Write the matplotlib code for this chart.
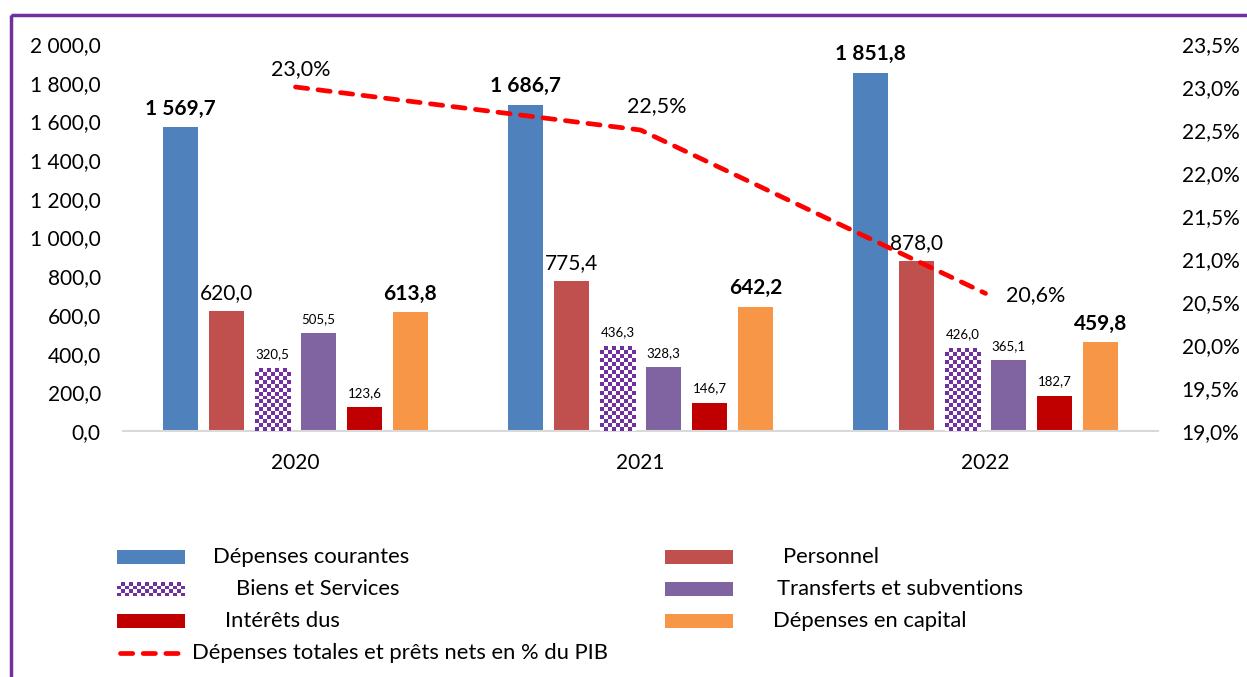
import numpy as np
import matplotlib
import matplotlib.pyplot as plt
from matplotlib.patches import Rectangle
from matplotlib.lines import Line2D
from matplotlib.colors import ListedColormap

plt.rcParams['font.family'] = ['Lato', 'DejaVu Sans']

years = ['2020', '2021', '2022']
courantes = [1569.7, 1686.7, 1851.8]
personnel = [620.0, 775.4, 878.0]
biens = [320.5, 436.3, 426.0]
transferts = [505.5, 328.3, 365.1]
interets = [123.6, 146.7, 182.7]
capital = [613.8, 642.2, 459.8]
depenses_pib = [23.0, 22.5, 20.6]

W, H = 1247, 677
PURPLE = '#7030A0'


def fr(v, dec=1):
    s = f"{v:,.{dec}f}"
    return s.replace(",", " ").replace(".", ",")


def fpx(x, y):
    return x / W, 1 - y / H


fig = plt.figure(figsize=(W / 100, H / 100), dpi=100)
ax = fig.add_axes([123 / W, 1 - 431 / H, 1035 / W, 387 / H])

x = np.arange(len(years))
width = 0.104
step = 0.1333
series = [
    (courantes, '#4F81BD', 15, 'bold'),
    (personnel, '#C0504D', 15, 'normal'),
    (biens, 'white', 9.5, 'normal'),
    (transferts, '#8064A2', 9.5, 'normal'),
    (interets, '#C00000', 9.5, 'normal'),
    (capital, '#F79646', 15, 'bold'),
]

ax.set_xlim(-0.5, 2.5)
ax.set_ylim(0, 2000)

containers = []
for i, (vals, col, fs, fw) in enumerate(series):
    bc = ax.bar(x + (i - 2.5) * step, vals, width, color=col, linewidth=0, zorder=2)
    ax.bar_label(bc, labels=[fr(v) for v in vals], padding=6, fontsize=fs,
                 fontweight=fw, color='black')
    containers.append(bc)

# checkerboard fill for "Biens et Services"
cmap = ListedColormap(['white', PURPLE])
for p in containers[2]:
    x0, y0 = p.get_x(), p.get_y()
    x1, y1 = x0 + p.get_width(), y0 + p.get_height()
    (dx0, dy0), (dx1, dy1) = ax.transData.transform([(x0, y0), (x1, y1)])
    nc = max(1, int(round((dx1 - dx0) / 4)))
    nr = max(1, int(round((dy1 - dy0) / 4)))
    ii, jj = np.indices((nr, nc))
    ax.imshow((ii + jj) % 2, cmap=cmap, extent=(x0, x1, y0, y1),
              interpolation='nearest', aspect='auto', zorder=3)

ax.set_xlim(-0.5, 2.5)
ax.set_ylim(0, 2000)
ax.set_yticks(np.arange(0, 2001, 200))
ax.set_yticklabels([fr(v) for v in np.arange(0, 2001, 200)])
ax.set_xticks(x)
ax.set_xticklabels(years)
ax.tick_params(axis='y', length=0, pad=16, labelsize=15)
ax.tick_params(axis='x', length=0, pad=16, labelsize=15)
for s in ['top', 'right', 'left']:
    ax.spines[s].set_visible(False)
ax.spines['bottom'].set_color('#D9D9D9')
ax.spines['bottom'].set_linewidth(1.5)

ax2 = ax.twinx()
ax2.plot(x, depenses_pib, color='#FF0000', lw=3.4, dashes=(2.6, 2.2),
         dash_capstyle='round', zorder=5)
ax2.set_ylim(19, 23.5)
pct_ticks = np.arange(19, 23.51, 0.5)
ax2.set_yticks(pct_ticks)
ax2.set_yticklabels([fr(v) + '%' for v in pct_ticks])
ax2.tick_params(axis='y', length=0, pad=17, labelsize=15)
for s in ax2.spines.values():
    s.set_visible(False)

offsets = [(4, 13), (12, 17), (36, -1)]
for xi, v, off in zip(x, depenses_pib, offsets):
    ax2.annotate(fr(v) + '%', (xi, v), xytext=off, textcoords='offset points',
                 ha='center', va='center', fontsize=15.5)

# purple frame
fig.patches.append(Rectangle(fpx(11, 15), 2, -1.2, transform=fig.transFigure,
                             fill=False, edgecolor=PURPLE, linewidth=2.5,
                             clip_on=False))

# legend
legend_rows = [
    ('patch', '#4F81BD', 'Dépenses courantes', 117, 557, 213),
    ('patch', '#C0504D', 'Personnel', 665, 557, 783),
    ('checker', PURPLE, 'Biens et Services', 117, 589, 236),
    ('patch', '#8064A2', 'Transferts et subventions', 665, 589, 777),
    ('patch', '#C00000', 'Intérêts dus', 117, 621, 225),
    ('patch', '#F79646', 'Dépenses en capital', 665, 621, 773),
    ('line', '#FF0000', 'Dépenses totales et prêts nets en % du PIB', 117, 653, 192),
]
for kind, col, label, hx, hy, tx in legend_rows:
    if kind == 'line':
        x0, yc = fpx(hx + 3, hy)
        x1, _ = fpx(hx + 63, hy)
        fig.lines.append(Line2D([x0, x1], [yc, yc], transform=fig.transFigure,
                                color=col, lw=3.4, dashes=(2.6, 2.2),
                                dash_capstyle='round'))
    elif kind == 'checker':
        cw, ch = 68 / 17, 14 / 4
        for r in range(4):
            for c in range(17):
                fc = col if (r + c) % 2 == 0 else 'white'
                fig.patches.append(Rectangle(fpx(hx + c * cw, hy + 7 - r * ch),
                                             cw / W, ch / H, transform=fig.transFigure,
                                             facecolor=fc, linewidth=0))
    else:
        fig.patches.append(Rectangle(fpx(hx, hy + 7), 68 / W, 14 / H,
                                     transform=fig.transFigure, facecolor=col,
                                     linewidth=0))
    fig.text(*fpx(tx, hy), label, ha='left', va='center', fontsize=15.8)

fig.savefig('out.png', dpi=100)
